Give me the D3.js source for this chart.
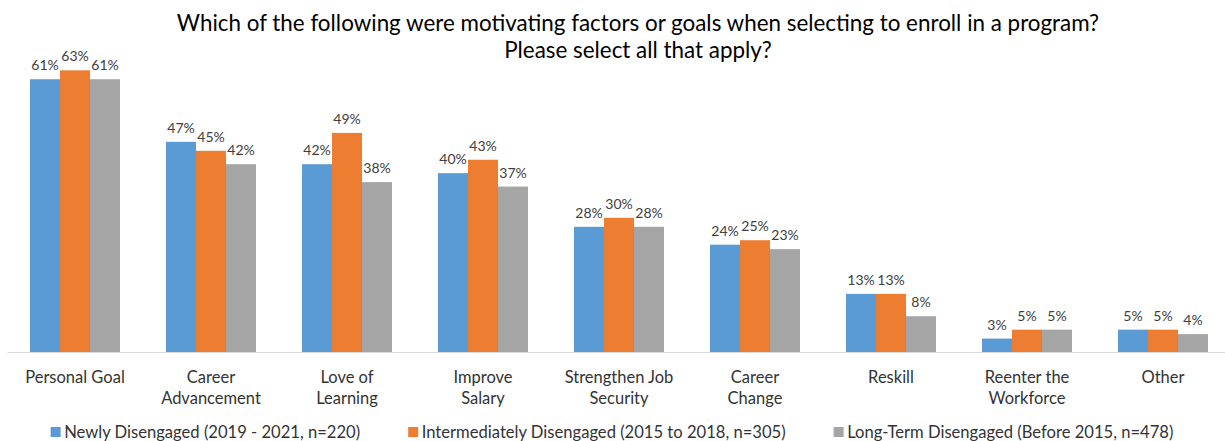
<!DOCTYPE html>
<html>
<head>
<meta charset="utf-8">
<script src="https://cdn.jsdelivr.net/npm/d3@7"></script>
<style>
  html, body { margin: 0; padding: 0; background: #fff; }
  svg { display: block; font-family: Lato, "Open Sans", sans-serif; }
</style>
</head>
<body>
<svg id="chart" width="1225" height="441"></svg>
<script>
// Survey answers per motivating factor, share of respondents (%)
const categories = [
  "Personal Goal",
  "Career\nAdvancement",
  "Love of\nLearning",
  "Improve\nSalary",
  "Strengthen Job\nSecurity",
  "Career\nChange",
  "Reskill",
  "Reenter the\nWorkforce",
  "Other"
];
const seriesNames = [
  "Newly Disengaged (2019 - 2021, n=220)",
  "Intermediately Disengaged (2015 to 2018, n=305)",
  "Long-Term Disengaged (Before 2015, n=478)"
];
const newlyDisengaged          = [61, 47, 42, 40, 28, 24, 13, 3, 5];
const intermediatelyDisengaged = [63, 45, 49, 43, 30, 25, 13, 5, 5];
const longTermDisengaged       = [61, 42, 38, 37, 28, 23, 8, 5, 4];
const seriesColors = ["#5B9BD5", "#ED7D31", "#A5A5A5"];
const titleLines = [
  "Which of the following were motivating factors or goals when selecting to enroll in a program?",
  "Please select all that apply?"
];

const series = [newlyDisengaged, intermediatelyDisengaged, longTermDisengaged];

const svg = d3.select("#chart");

// Scales
const x0 = d3.scaleBand()
  .domain(categories)
  .range([7, 1231])
  .paddingInner(46 / 136)
  .paddingOuter(23 / 136);
const x1 = d3.scaleBand()
  .domain(d3.range(series.length))
  .range([0, x0.bandwidth()]);
const y = d3.scaleLinear().domain([0, 70]).range([352, 39]);

// Title
svg.append("g")
  .selectAll("text")
  .data(titleLines)
  .join("text")
  .attr("x", 638)
  .attr("y", (d, i) => 31 + i * 27)
  .attr("text-anchor", "middle")
  .attr("font-size", 22.4)
  .attr("fill", "#000")
  .text(d => d);

// Bars
const groups = svg.append("g")
  .selectAll("g")
  .data(categories)
  .join("g")
  .attr("transform", d => `translate(${x0(d)},0)`);

groups.selectAll("rect")
  .data((c, ci) => series.map((s, si) => ({ si, v: s[ci] })))
  .join("rect")
  .attr("x", d => x1(d.si))
  .attr("width", x1.bandwidth())
  .attr("y", d => y(d.v))
  .attr("height", d => y(0) - y(d.v))
  .attr("fill", d => seriesColors[d.si]);

// Data labels
groups.selectAll("text")
  .data((c, ci) => series.map((s, si) => ({ si, v: s[ci] })))
  .join("text")
  .attr("x", d => x1(d.si) + x1.bandwidth() / 2)
  .attr("y", d => y(d.v) - 9)
  .attr("text-anchor", "middle")
  .attr("font-size", 14)
  .attr("fill", "#404040")
  .text(d => d.v + "%");

// Category axis
const xAxis = svg.append("g")
  .attr("transform", `translate(0,${y(0)})`)
  .call(d3.axisBottom(x0).tickSize(0).tickFormat(""));
xAxis.select(".domain").attr("stroke", "#D9D9D9").attr("stroke-width", 1.2);

const catLabels = svg.append("g")
  .selectAll("text")
  .data(categories)
  .join("text")
  .attr("x", d => x0(d) + x0.bandwidth() / 2)
  .attr("y", 383)
  .attr("text-anchor", "middle")
  .attr("font-size", 16.5)
  .attr("fill", "#333333");
catLabels.selectAll("tspan")
  .data(d => d.split("\n"))
  .join("tspan")
  .attr("x", function () { return d3.select(this.parentNode).attr("x"); })
  .attr("dy", (d, i) => i === 0 ? 0 : 21)
  .text(d => d);

// Legend, centred under the plot
const legend = svg.append("g");
const items = legend.selectAll("g")
  .data(seriesNames)
  .join("g");
items.append("rect")
  .attr("width", 10).attr("height", 10)
  .attr("y", 427)
  .attr("fill", (d, i) => seriesColors[i]);
items.append("text")
  .attr("x", 13.5)
  .attr("y", 438)
  .attr("font-size", 16.6)
  .attr("fill", "#333333")
  .text(d => d);

const gap = 48;
const widths = [];
items.each(function () {
  widths.push(13.5 + d3.select(this).select("text").node().getComputedTextLength());
});
const total = d3.sum(widths) + gap * (widths.length - 1);
let cursor = 612 - total / 2;
items.attr("transform", (d, i) => {
  const t = `translate(${cursor},0)`;
  cursor += widths[i] + gap;
  return t;
});
</script>
</body>
</html>
